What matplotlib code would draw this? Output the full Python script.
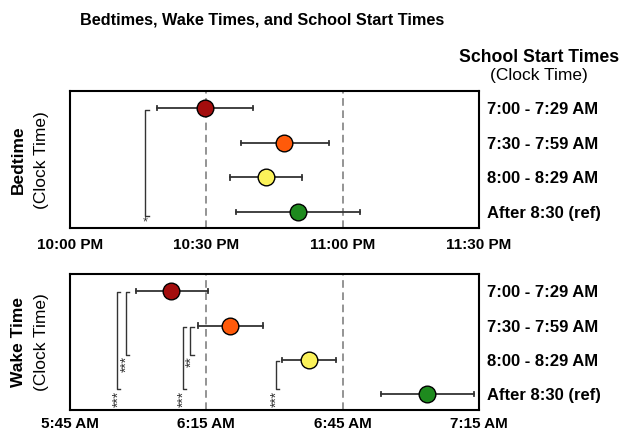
import matplotlib.pyplot as plt

plt.rcParams['font.family'] = ['Liberation Sans', 'DejaVu Sans']

# School start time groups (top to bottom)
groups = ['7:00 - 7:29 AM', '7:30 - 7:59 AM', '8:00 - 8:29 AM', 'After 8:30 (ref)']
colors = ['#a30d0d', '#ff5a0a', '#fbf25a', '#1e8a1e']

# Bedtime, minutes after 10:00 PM (mean, lower, upper)
bed_mean = [29.7, 47.1, 43.1, 50.2]
bed_low = [19.1, 37.7, 35.3, 36.5]
bed_high = [40.3, 57.0, 51.1, 63.8]
bed_ticks = ['10:00 PM', '10:30 PM', '11:00 PM', '11:30 PM']

# Wake time, minutes after 5:45 AM (mean, lower, upper)
wake_mean = [22.3, 35.2, 52.6, 78.6]
wake_low = [14.5, 28.2, 46.7, 68.4]
wake_high = [30.3, 42.5, 58.5, 88.9]
wake_ticks = ['5:45 AM', '6:15 AM', '6:45 AM', '7:15 AM']

# significance brackets: (x in minutes, from group, to group, label)
bed_sig = [(16.6, 0, 3, '*')]
wake_sig = [(10.4, 0, 3, '***'), (12.3, 0, 2, '***'),
            (24.8, 1, 3, '***'), (26.5, 1, 2, '**'),
            (45.3, 2, 3, '***')]


def draw_panel(ax, mean, low, high, ticks, sig, rotate_stars, xpad):
    rows = range(len(groups))
    for i in rows:
        ax.plot([low[i], high[i]], [i, i], color='#333333', lw=1.3, zorder=2)
        for end in (low[i], high[i]):
            ax.plot([end, end], [i - 0.06, i + 0.06], color='#333333', lw=1.3, zorder=2)
        ax.plot(mean[i], i, 'o', ms=12, mfc=colors[i], mec='black', mew=1.0, zorder=3)

    for v in (30, 60):
        ax.axvline(v, color='#777777', ls=(0, (5, 3)), lw=1.1, zorder=1)

    for x, a, b, lab in sig:
        d = 0.7
        if rotate_stars:
            y0, y1 = a + 0.03, b - 0.15
        else:
            y0, y1 = a + 0.05, b + 0.1
        ax.plot([x + d, x, x, x + d], [y0, y0, y1, y1], color='#333333', lw=1.0)
        if rotate_stars:
            ax.text(x + 0.2, y1 + 0.04, lab, rotation=90, ha='center', va='top',
                    fontsize=10, color='#333333')
        else:
            ax.text(x, y1 + 0.02, lab, ha='center', va='top', fontsize=9, color='#333333')

    ax.set_xlim(0, 90)
    ax.set_ylim(3.46, -0.5)
    ax.set_xticks([0, 30, 60, 90])
    ax.set_xticklabels(ticks, fontweight='bold', fontsize=11)
    ax.set_yticks(list(rows))
    ax.set_yticklabels(groups, fontweight='bold', fontsize=12)
    ax.yaxis.tick_right()
    ax.tick_params(axis='both', length=0)
    ax.tick_params(axis='x', pad=xpad)
    ax.tick_params(axis='y', pad=6)
    for s in ax.spines.values():
        s.set_linewidth(1.5)


fig = plt.figure(figsize=(6.21, 4.34), dpi=100)
ax1 = fig.add_axes([0.1127, 0.4747, 0.6586, 0.3157])
ax2 = fig.add_axes([0.1127, 0.0553, 0.6586, 0.3134])

draw_panel(ax1, bed_mean, bed_low, bed_high, bed_ticks, bed_sig, False, 7)
draw_panel(ax2, wake_mean, wake_low, wake_high, wake_ticks, wake_sig, True, 5)

fig.text(0.422, 0.953, 'Bedtimes, Wake Times, and School Start Times',
         ha='center', va='center', fontweight='bold', fontsize=11.7)
fig.text(0.868, 0.868, 'School Start Times', ha='center', va='center',
         fontweight='bold', fontsize=12.7)
fig.text(0.868, 0.826, '(Clock Time)', ha='center', va='center', fontsize=12.5)

fig.text(0.029, 0.632, 'Bedtime', rotation=90, ha='center', va='center',
         fontweight='bold', fontsize=12.5)
fig.text(0.067, 0.632, '(Clock Time)', rotation=90, ha='center', va='center', fontsize=12.5)
fig.text(0.029, 0.212, 'Wake Time', rotation=90, ha='center', va='center',
         fontweight='bold', fontsize=12.5)
fig.text(0.067, 0.212, '(Clock Time)', rotation=90, ha='center', va='center', fontsize=12.5)

fig.savefig('out.png', dpi=100)
